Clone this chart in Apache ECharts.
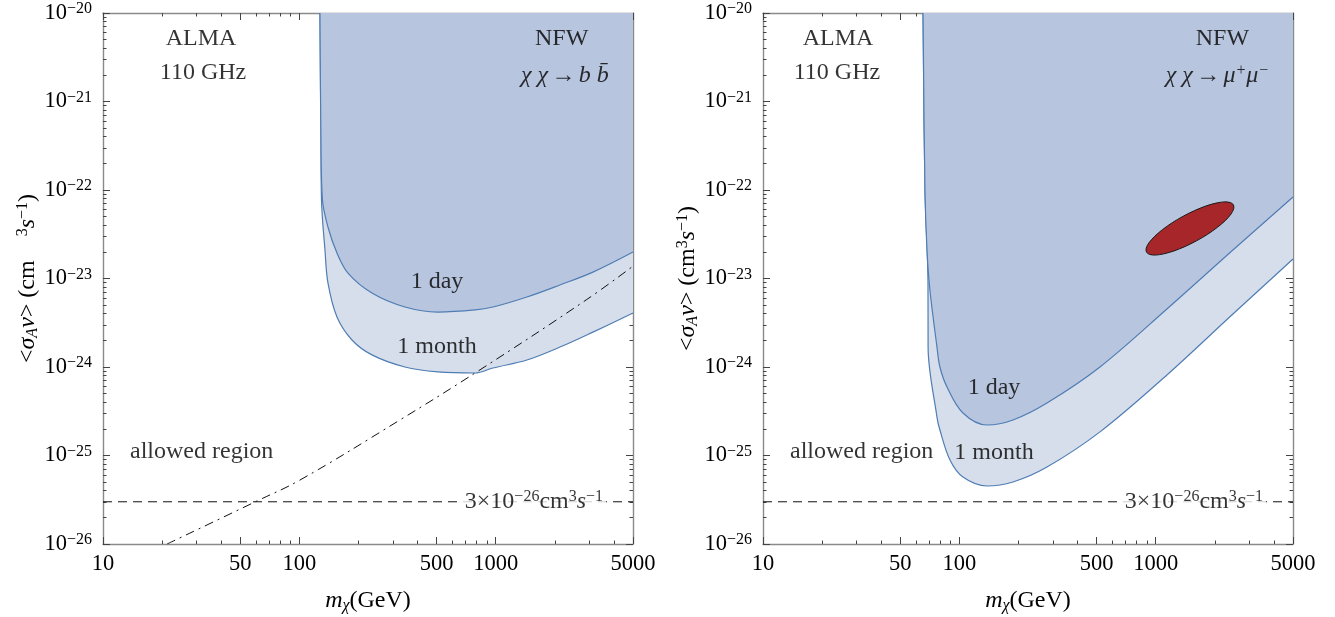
<!DOCTYPE html>
<html><head><meta charset="utf-8">
<script src="https://cdn.jsdelivr.net/npm/echarts@6/dist/echarts.min.js"></script>
<style>html,body{margin:0;padding:0;background:#fff}#c{width:1335px;height:617px}</style>
</head><body><div id="c"></div>
<script>
// ---------- data ----------
const xTickValues = [10, 50, 100, 500, 1000, 5000];
const xMinorTicks = [20, 30, 40, 60, 70, 80, 90, 200, 300, 400, 600, 700, 800, 900, 2000, 3000, 4000];
const yTickValues = [1e-26, 1e-25, 1e-24, 1e-23, 1e-22, 1e-21, 1e-20];
const yMinorMantissas = [2, 3, 4, 5, 6, 7, 8, 9];
const thermalSigma = 3e-26;

// left panel: chi chi -> b bbar
const bbMass1Month  = [127.3, 128.8, 129.6, 135.0, 139.8, 155.4, 185.3, 234.2, 344.9, 507.8, 783.8, 967.6, 1441, 2123, 3125, 5000];
const bbSigma1Month = [1e-20, 3.67e-22, 7.7e-23, 2.1e-23, 8.9e-24, 3.67e-24, 2.02e-24, 1.37e-24, 1.0e-24, 8.8e-25, 8.55e-25, 9.75e-25, 1.2e-24, 1.68e-24, 2.48e-24, 4.07e-24];
const bbMass1Day    = [127.3, 128.8, 131.1, 139.8, 155.4, 176.8, 234.2, 344.9, 507.8, 783.8, 967.6, 1441, 2123, 3125, 5000];
const bbSigma1Day   = [1e-20, 3.67e-22, 7.7e-23, 3.82e-23, 1.94e-23, 1.15e-23, 6.85e-24, 4.76e-24, 4.18e-24, 4.41e-24, 4.76e-24, 6.18e-24, 8.45e-24, 1.18e-23, 1.99e-23];
const bbDashDotMass  = [21.2, 60.8, 100.7, 325.2, 832, 2911, 5000];
const bbDashDotSigma = [1e-26, 3.06e-26, 5.28e-26, 2.52e-25, 9.3e-25, 5.8e-24, 1.38e-23];

// right panel: chi chi -> mu+ mu-
const mmMass1Month  = [65.3, 66.8, 69.2, 69.3, 76.9, 79.6, 89.6, 104.3, 138.2, 187.5, 279.3, 520, 1140, 2472, 5000];
const mmSigma1Month = [1e-20, 1e-22, 8.9e-24, 1.68e-24, 2.72e-25, 1.94e-25, 8.9e-26, 5.71e-26, 4.52e-26, 5.02e-26, 7.41e-26, 1.85e-25, 8.13e-25, 3.97e-24, 1.66e-23];
const mmMass1Day    = [65.3, 66.8, 68.4, 70.8, 76.9, 79.6, 86.5, 104.3, 138.2, 187.5, 279.3, 520, 1140, 2472, 5000];
const mmSigma1Day   = [1e-20, 1e-22, 2.1e-23, 7.41e-24, 1.68e-24, 1.0e-24, 5.94e-25, 3.02e-25, 2.21e-25, 2.52e-25, 3.92e-25, 1.0e-24, 4.52e-24, 2.1e-23, 8.34e-23];
// red ellipse outline (mass, sigma) read around its edge
const ellipseMass  = [2487, 2494, 2415, 2263, 2062, 1838, 1615, 1411, 1239, 1100, 998.5, 931.1,
                      896.9, 894.3, 923.3, 985.1, 1081, 1213, 1381, 1580, 1800, 2027, 2233, 2395];
const ellipseSigma = [6.79e-23, 6.12e-23, 5.33e-23, 4.52e-23, 3.79e-23, 3.16e-23, 2.67e-23, 2.30e-23, 2.05e-23, 1.90e-23, 1.84e-23, 1.87e-23,
                      1.99e-23, 2.20e-23, 2.53e-23, 2.98e-23, 3.56e-23, 4.27e-23, 5.06e-23, 5.87e-23, 6.59e-23, 7.11e-23, 7.34e-23, 7.22e-23];

// ---------- style ----------
const FONT = '"Liberation Serif", "Times New Roman", serif';
const TXT = '#000000';
const FRAME = '#8a8a8a';
const TICK = '#444444';
const LINE = '#4f7db4';
const FILL_DARK = '#b8c5de';
const FILL_LIGHT = '#d6deeb';

const richText = {
  n:   {fontFamily: FONT, fontSize: 24, color: TXT, lineHeight: 26},
  it:  {fontFamily: FONT, fontSize: 24, color: TXT, fontStyle: 'italic', lineHeight: 26},
  sup: {fontFamily: FONT, fontSize: 16, color: TXT, verticalAlign: 'top', lineHeight: 15},
  isup:{fontFamily: FONT, fontSize: 16, color: TXT, fontStyle: 'italic', verticalAlign: 'top', lineHeight: 15},
  sub: {fontFamily: FONT, fontSize: 16, color: TXT, fontStyle: 'italic', verticalAlign: 'bottom', lineHeight: 15},
  base:{fontFamily: FONT, fontSize: 22.5, color: TXT, lineHeight: 24},
  tsup:{fontFamily: FONT, fontSize: 16, color: TXT, verticalAlign: 'top', lineHeight: 14}
};

function pairs(xs, ys) { return xs.map((x, i) => [x, ys[i]]); }
function yLabel(v) {
  const e = Math.round(Math.log10(v));
  return '{base|10}{tsup|' + (e < 0 ? '\u2212' + (-e) : e) + '}';
}
function xLabel(v) { return '{base|' + Math.round(v) + '}'; }

const yMinorTicks = [];
for (let e = -26; e < -20; e++) yMinorMantissas.forEach(m => yMinorTicks.push(m * Math.pow(10, e)));

const grids = [
  {left: 103, top: 13, width: 530, height: 531, containLabel: false, outerBoundsMode: 'none'},
  {left: 763, top: 13, width: 530, height: 531, containLabel: false, outerBoundsMode: 'none'}
];

const xAxes = [], yAxes = [];
const yNames = [
  '{n|<}{it|σ}{sub|A}{it|v}{n|> (cm    }{sup|3}{it|s}{sup|\u22121}{n|)}',
  '{n|<}{it|σ}{sub|A}{it|v}{n|> (cm}{sup|3}{it|s}{sup|\u22121}{n|)}'
];
[0, 1].forEach(g => {
  const xBase = {type: 'log', logBase: 10, gridIndex: g, min: 10, max: 5000, splitLine: {show: false}, axisPointer: {show: false}};
  const yBase = {type: 'log', logBase: 10, gridIndex: g, min: 1e-26, max: 1e-20, splitLine: {show: false}, axisPointer: {show: false}};
  const frameLine = {show: true, onZero: false, lineStyle: {color: FRAME, width: 1.4}};
  const noLine = {show: false, onZero: false};
  xAxes.push(Object.assign({}, xBase, {
    position: 'bottom', axisLine: frameLine,
    axisTick: {show: true, inside: true, length: 7, customValues: xTickValues, lineStyle: {color: TICK, width: 1}},
    axisLabel: {show: true, customValues: xTickValues, formatter: xLabel, rich: richText, margin: 8},
    name: '{it|m}{sub|χ}{n|(GeV)}', nameLocation: 'middle', nameGap: 44, nameMoveOverlap: false,
    nameTextStyle: {rich: richText}
  }));
  xAxes.push(Object.assign({}, xBase, {
    position: 'bottom', axisLine: noLine, axisLabel: {show: false},
    axisTick: {show: true, inside: true, length: 3.5, customValues: xMinorTicks, lineStyle: {color: TICK, width: 1}}
  }));
  xAxes.push(Object.assign({}, xBase, {
    position: 'top', axisLine: frameLine, axisLabel: {show: false},
    axisTick: {show: true, inside: true, length: 7, customValues: xTickValues, lineStyle: {color: TICK, width: 1}}
  }));
  xAxes.push(Object.assign({}, xBase, {
    position: 'top', axisLine: noLine, axisLabel: {show: false},
    axisTick: {show: true, inside: true, length: 3.5, customValues: xMinorTicks, lineStyle: {color: TICK, width: 1}}
  }));
  yAxes.push(Object.assign({}, yBase, {
    position: 'left', axisLine: frameLine,
    axisTick: {show: true, inside: true, length: 7, customValues: yTickValues, lineStyle: {color: TICK, width: 1}},
    axisLabel: {show: true, customValues: yTickValues, formatter: yLabel, rich: richText, margin: 11},
    name: yNames[g], nameLocation: 'middle', nameGap: 62, nameMoveOverlap: false,
    nameTextStyle: {rich: richText}
  }));
  yAxes.push(Object.assign({}, yBase, {
    position: 'left', axisLine: noLine, axisLabel: {show: false},
    axisTick: {show: true, inside: true, length: 3.5, customValues: yMinorTicks, lineStyle: {color: TICK, width: 1}}
  }));
  yAxes.push(Object.assign({}, yBase, {
    position: 'right', axisLine: frameLine, axisLabel: {show: false},
    axisTick: {show: true, inside: true, length: 7, customValues: yTickValues, lineStyle: {color: TICK, width: 1}}
  }));
  yAxes.push(Object.assign({}, yBase, {
    position: 'right', axisLine: noLine, axisLabel: {show: false},
    axisTick: {show: true, inside: true, length: 3.5, customValues: yMinorTicks, lineStyle: {color: TICK, width: 1}}
  }));
});

function region(g, xs, ys, fill, z) {
  return {
    type: 'line', xAxisIndex: g * 4, yAxisIndex: g * 4, data: pairs(xs, ys),
    showSymbol: false, symbol: 'none', smooth: 0.35, z: z,
    lineStyle: {color: LINE, width: 1.2},
    areaStyle: {origin: 'end', color: fill, opacity: 1},
    silent: true, animation: false
  };
}

function annotations(g, items) {
  return {
    type: 'scatter', xAxisIndex: g * 4, yAxisIndex: g * 4, symbolSize: 1, z: 20,
    itemStyle: {color: 'rgba(0,0,0,0)'}, silent: true, animation: false,
    data: items.map(it => ({
      value: [it[0], it[1]],
      label: Object.assign({show: true, position: 'inside', formatter: it[2], rich: richText, color: TXT,
        textBorderWidth: 0}, it[3] || {})
    }))
  };
}

const thermalText = '{n|3×10}{sup|\u221226}{n|cm}{sup|3}{it|s}{sup|\u22121}';
const thermalBox = {backgroundColor: '#ffffff', padding: [0, 3, 0, 3]};

const series = [
  region(0, bbMass1Month, bbSigma1Month, FILL_LIGHT, 2),
  region(0, bbMass1Day, bbSigma1Day, FILL_DARK, 3),
  region(1, mmMass1Month, mmSigma1Month, FILL_LIGHT, 2),
  region(1, mmMass1Day, mmSigma1Day, FILL_DARK, 3),
  {
    type: 'line', xAxisIndex: 0, yAxisIndex: 0, data: pairs(bbDashDotMass, bbDashDotSigma),
    showSymbol: false, symbol: 'none', smooth: 0.4, z: 5, silent: true, animation: false,
    lineStyle: {color: '#111', width: 1, type: [9, 5, 2, 5]}
  },
  {
    type: 'line', xAxisIndex: 0, yAxisIndex: 0, data: [[10, thermalSigma], [5000, thermalSigma]],
    showSymbol: false, symbol: 'none', z: 5, silent: true, animation: false,
    lineStyle: {color: '#111', width: 1, type: [9, 6]}
  },
  {
    type: 'line', xAxisIndex: 4, yAxisIndex: 4, data: [[10, thermalSigma], [5000, thermalSigma]],
    showSymbol: false, symbol: 'none', z: 5, silent: true, animation: false,
    lineStyle: {color: '#111', width: 1, type: [9, 6]}
  },
  {
    type: 'custom', xAxisIndex: 4, yAxisIndex: 4, z: 6, silent: true, animation: false,
    data: [[ellipseMass[0], ellipseSigma[0]]],
    renderItem: function (params, api) {
      const pts = ellipseMass.map((m, i) => api.coord([m, ellipseSigma[i]]));
      return {type: 'polygon', shape: {points: pts, smooth: 0.3},
        style: {fill: '#a6262a', stroke: '#1a1a1a', lineWidth: 1}};
    }
  },
  annotations(0, [
    [31.55, 5.15e-21, '{n|ALMA}'],
    [32.3, 2.13e-21, '{n|110 GHz}'],
    [2165, 5.1e-21, '{n|NFW}'],
    [2251, 1.97e-21, '{it|χ χ} {n|→} {it|b b\u0304}'],
    [502, 9.1e-24, '{n|1 day}'],
    [502, 1.68e-24, '{n|1 month}'],
    [31.8, 1.1e-25, '{n|allowed region}'],
    [1565, thermalSigma, thermalText, thermalBox]
  ]),
  annotations(1, [
    [24.1, 5.15e-21, '{n|ALMA}'],
    [23.8, 2.13e-21, '{n|110 GHz}'],
    [2186, 5.1e-21, '{n|NFW}'],
    [2061, 1.97e-21, '{it|χ χ} {n|→} {it|μ}{isup|+}{it|μ}{isup|\u2212}'],
    [150.1, 5.8e-25, '{n|1 day}'],
    [150.1, 1.07e-25, '{n|1 month}'],
    [31.8, 1.1e-25, '{n|allowed region}'],
    [1565, thermalSigma, thermalText, thermalBox]
  ])
];

const chart = echarts.init(document.getElementById('c'), null, {renderer: 'canvas'});
chart.setOption({
  animation: false,
  backgroundColor: '#ffffff',
  grid: grids,
  xAxis: xAxes,
  yAxis: yAxes,
  series: series
});
</script>
</body></html>
